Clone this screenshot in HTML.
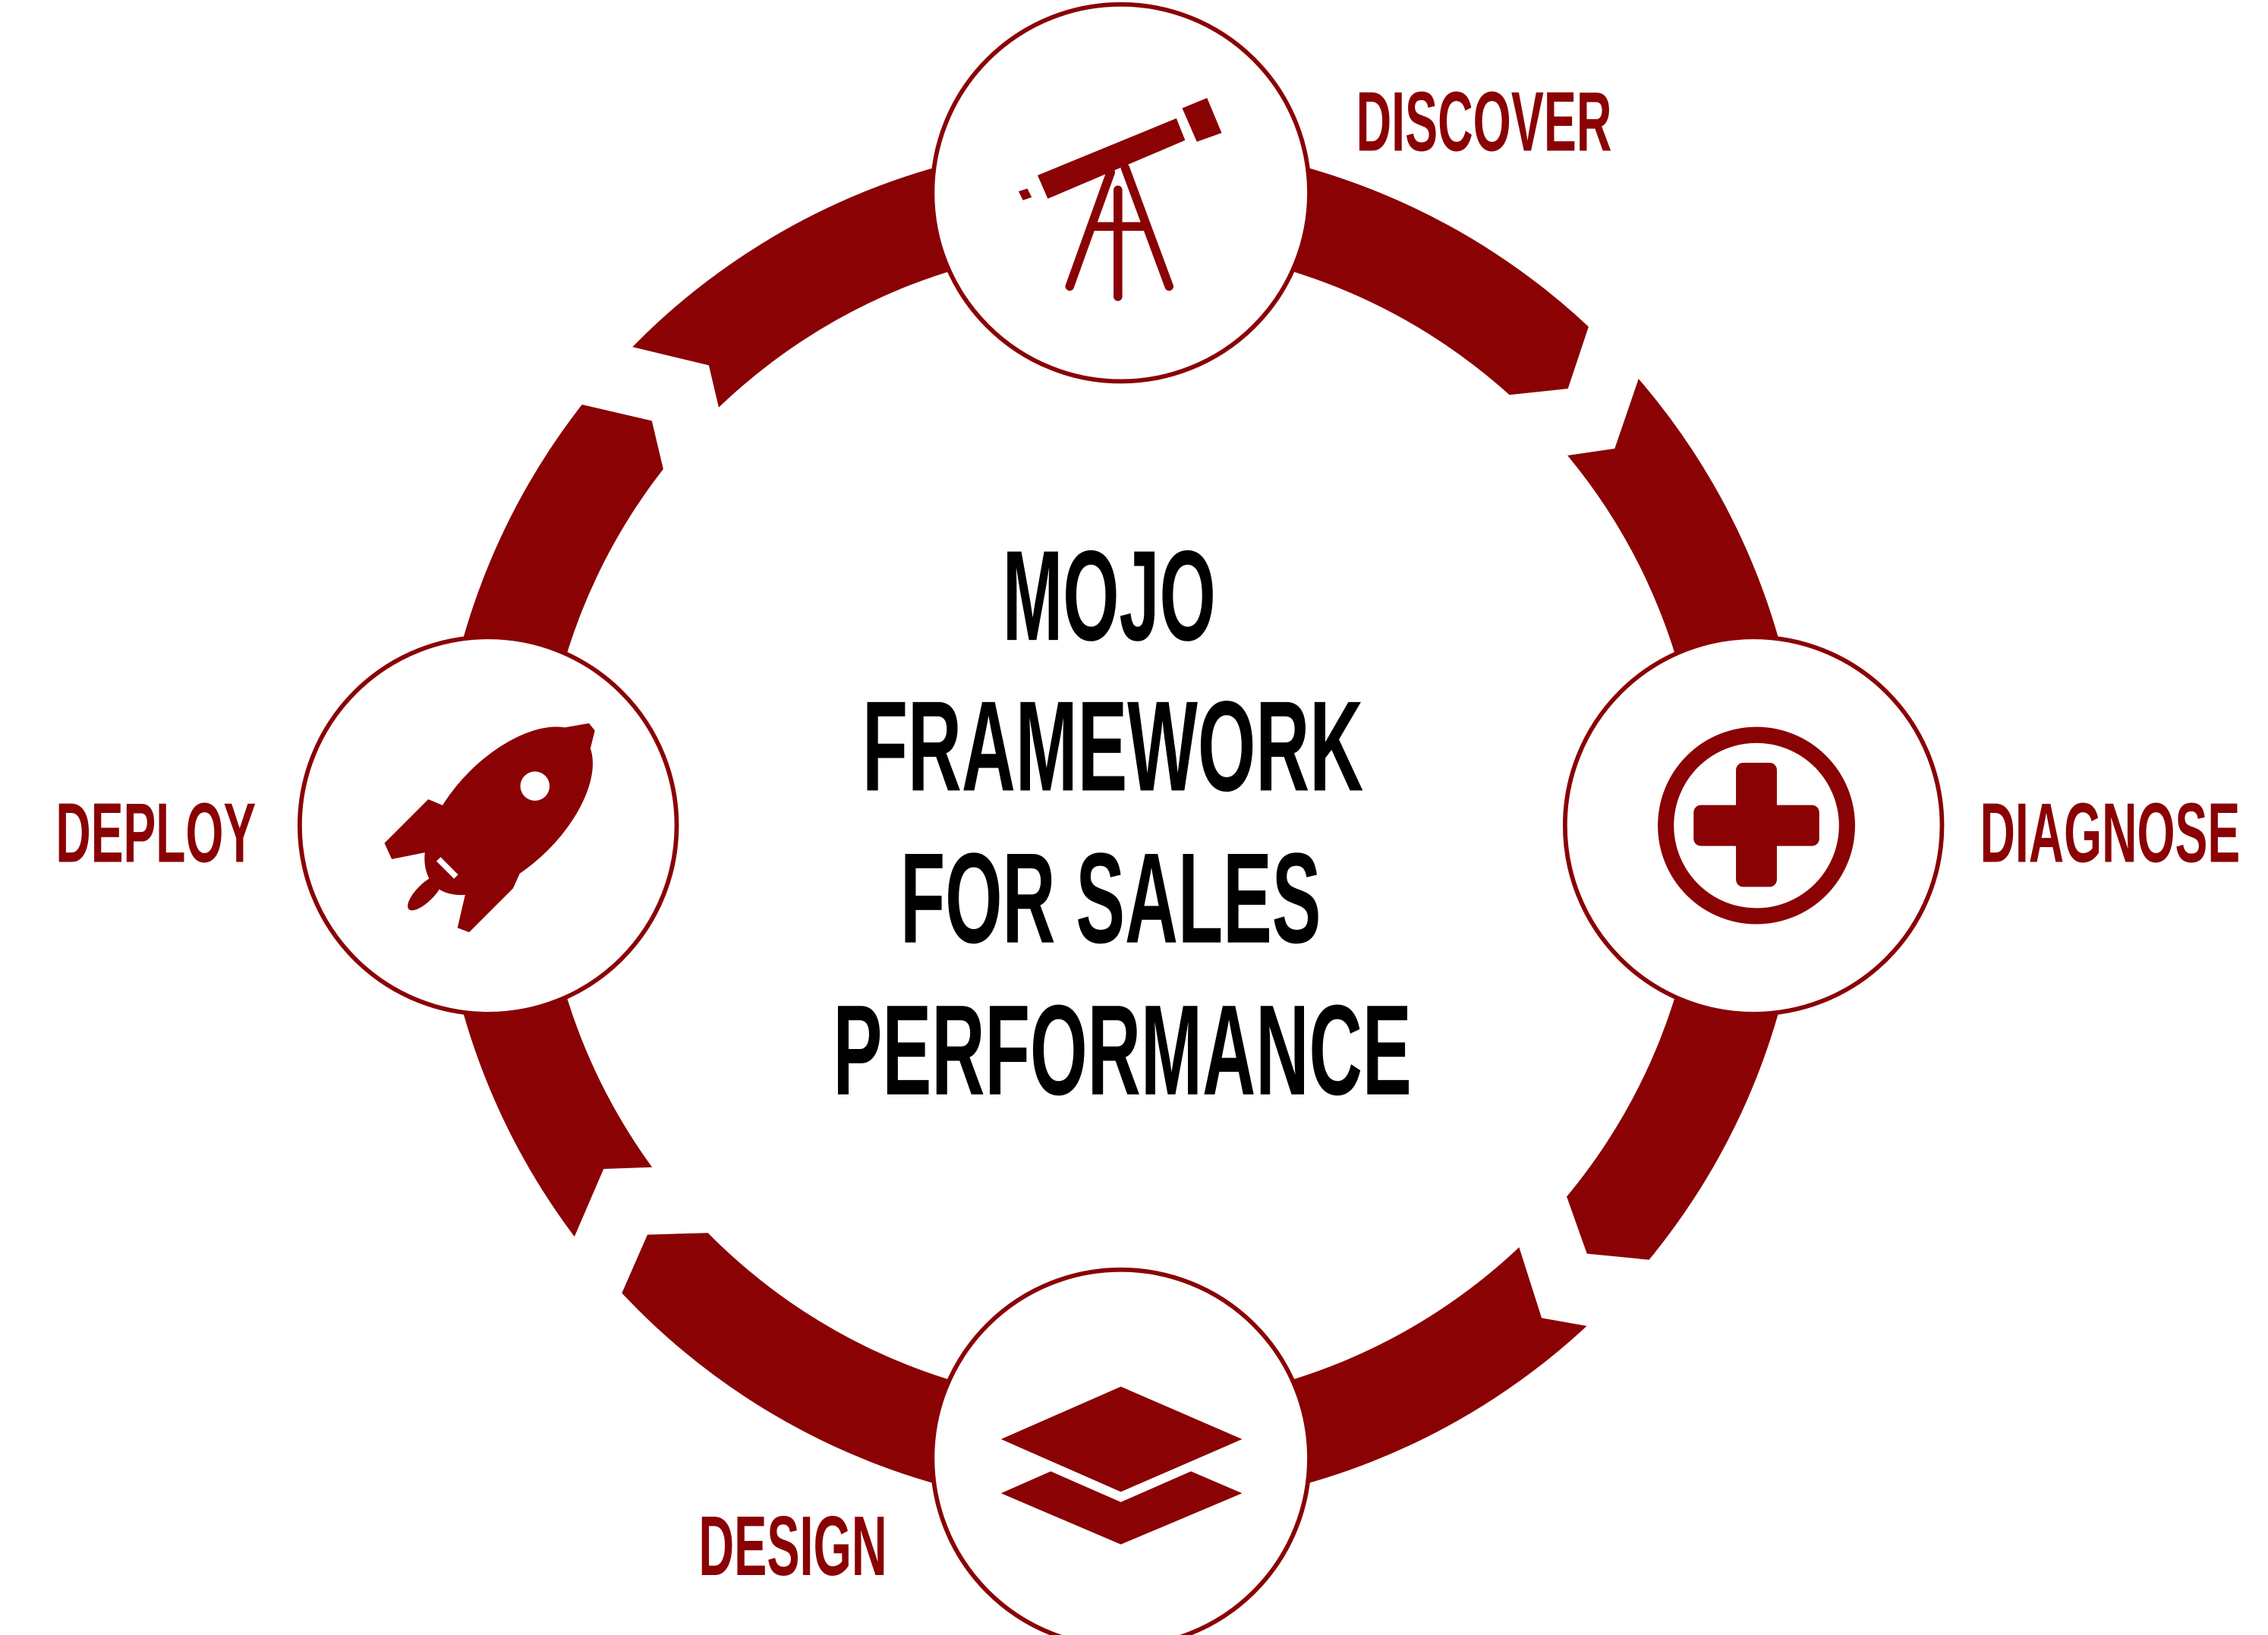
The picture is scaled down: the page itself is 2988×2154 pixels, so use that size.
<!DOCTYPE html>
<html><head><meta charset="utf-8"><style>
html,body{margin:0;padding:0;background:#fff;}
svg{display:block;}
.lab{font-family:"Liberation Sans Narrow","Liberation Sans",sans-serif;font-weight:bold;fill:#8a0204;font-size:58px;}
.ct{font-family:"Liberation Sans Narrow","Liberation Sans",sans-serif;font-weight:bold;fill:#000;font-size:88px;}
</style></head><body>
<svg width="2988" height="2154" viewBox="0 0 1552 1119" xmlns="http://www.w3.org/2000/svg">
<rect width="1552" height="1119" fill="#fff"/>
<circle cx="767" cy="565" r="432.5" fill="none" stroke="#8a0204" stroke-width="71"/>
<g fill="#fff">
<polygon points="1096,197 1073,266 1007,273 1050,315 1105,307 1130,234"/>
<polygon points="1064,796 1086,858 1157,865 1117,913 1055,902 1033,833"/>
<polygon points="513,843 443,845 415,909 382,872 413,800 471,798"/>
<polygon points="406,231 485,250 497,301 460,347 446,288 373,271"/>
</g>
<g fill="#fff" stroke="#8a0204" stroke-width="3">
<circle cx="767" cy="132" r="129"/>
<circle cx="1200" cy="565" r="129"/>
<circle cx="767" cy="998" r="129"/>
<circle cx="334" cy="565" r="129"/>
</g>
<!-- telescope -->
<g fill="#8a0204">
<polygon points="710,120 805,81 811,96 717,136"/>
<polygon points="809,74 826,67 836,91 819,97"/>
<polygon points="697,131 703,129 706,135 700,137"/>
</g>
<g stroke="#8a0204" stroke-width="6" stroke-linecap="round" fill="none">
<line x1="760" y1="118" x2="732" y2="196"/>
<line x1="770" y1="115" x2="800" y2="196"/>
<line x1="765" y1="130" x2="765" y2="203"/>
<line x1="748" y1="155" x2="783" y2="155"/>
</g>
<!-- cross -->
<circle cx="1202" cy="565" r="62" fill="none" stroke="#8a0204" stroke-width="11"/>
<rect x="1188" y="522" width="28" height="85" rx="5" fill="#8a0204"/>
<rect x="1159" y="551" width="86" height="28" rx="5" fill="#8a0204"/>
<!-- layers -->
<polygon points="767,949 850,985 767,1021 685,985" fill="#8a0204"/>
<polygon points="685,1022 719,1007 767,1028 815,1007 850,1022 767,1057" fill="#8a0204"/>
<!-- rocket -->
<g fill="#8a0204">
<ellipse cx="348" cy="555" rx="72" ry="38" transform="rotate(-45 348 555)"/>
<polygon points="374,500 403,495 407,500 400,528 385,510"/>
<polygon points="305,552 293,547 263,577 268,588 293,583"/>
<polygon points="356,597 351,608 321,638 313,635 319,609"/>
<ellipse cx="291" cy="611" rx="6" ry="16" transform="rotate(45 291 611)"/>
</g>
<circle cx="366" cy="538" r="10" fill="#fff"/>
<line x1="300" y1="588" x2="312" y2="600" stroke="#fff" stroke-width="4"/>
<!-- labels -->
<text class="lab" x="928" y="103" textLength="175" lengthAdjust="spacingAndGlyphs">DISCOVER</text>
<text class="lab" x="1355" y="590" textLength="178" lengthAdjust="spacingAndGlyphs">DIAGNOSE</text>
<text class="lab" x="38" y="590" textLength="137" lengthAdjust="spacingAndGlyphs">DEPLOY</text>
<text class="lab" x="478" y="1078" textLength="129" lengthAdjust="spacingAndGlyphs">DESIGN</text>
<text class="ct" x="686" y="438" textLength="146" lengthAdjust="spacingAndGlyphs">MOJO</text>
<text class="ct" x="590" y="541" textLength="343" lengthAdjust="spacingAndGlyphs">FRAMEWORK</text>
<text class="ct" x="616" y="645" textLength="288" lengthAdjust="spacingAndGlyphs">FOR SALES</text>
<text class="ct" x="570" y="749" textLength="396" lengthAdjust="spacingAndGlyphs">PERFORMANCE</text>
</svg>
</body></html>
